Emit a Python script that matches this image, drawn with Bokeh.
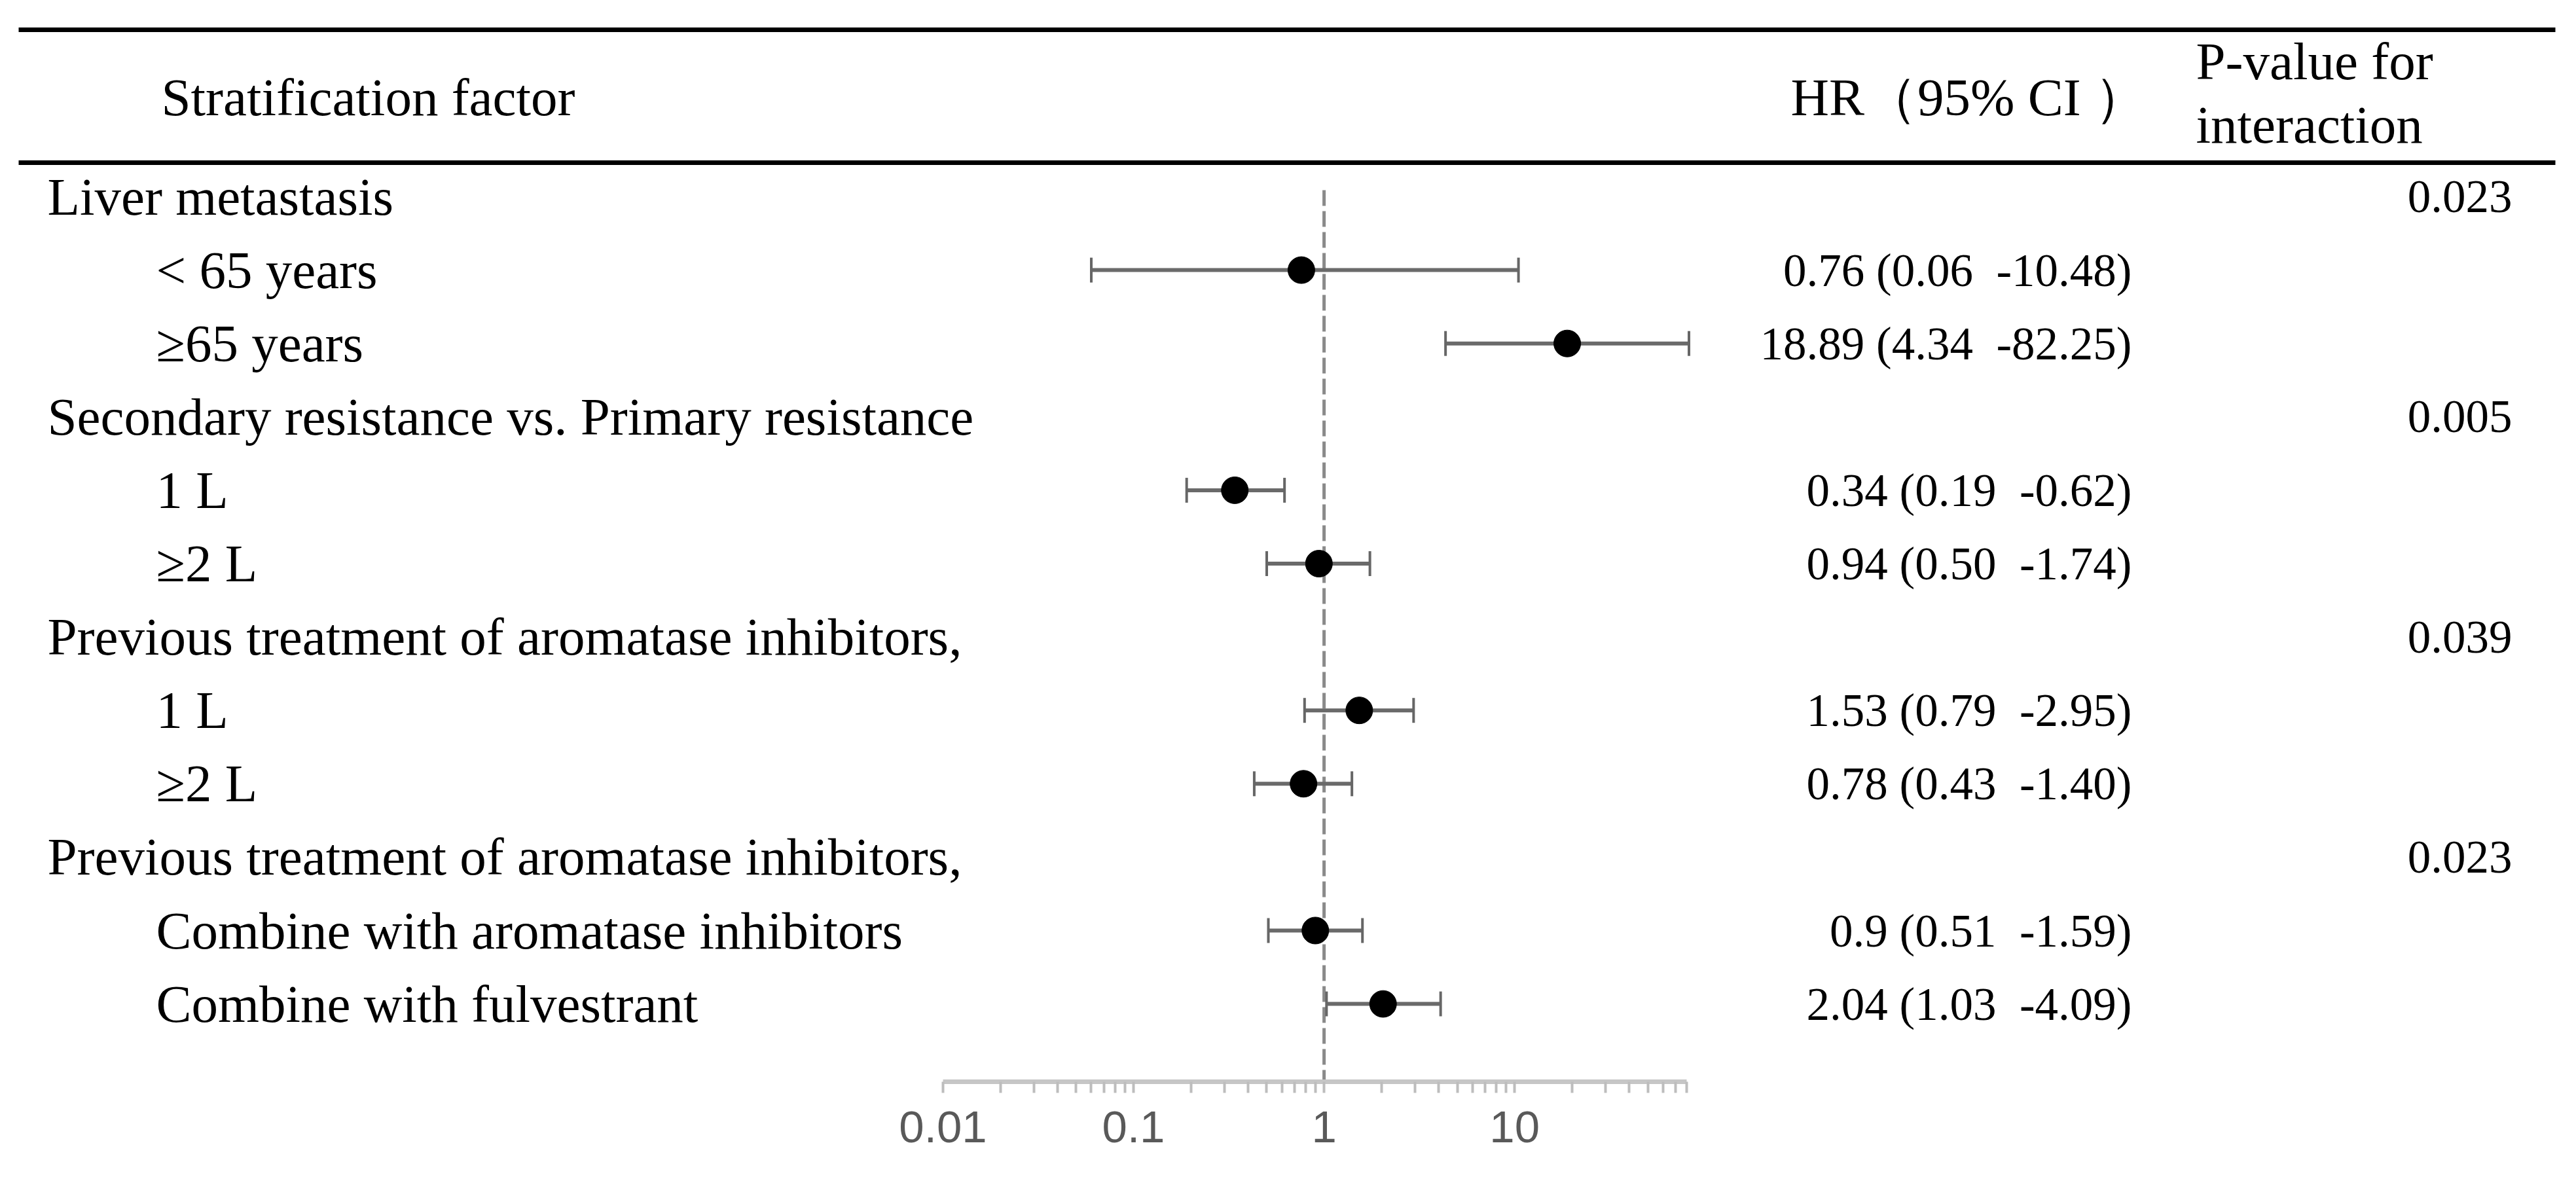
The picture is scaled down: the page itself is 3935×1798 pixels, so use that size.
import math
from bokeh.plotting import figure
from bokeh.models import Range1d, LogScale, LogAxis, FixedTicker
from bokeh.core.properties import value
from bokeh.embed import file_html
from bokeh.resources import INLINE

# ---------------- data ----------------
row_labels = [
    "Liver metastasis",
    "< 65 years",
    "\u226565 years",
    "Secondary resistance vs. Primary resistance",
    "1 L",
    "\u22652 L",
    "Previous treatment of aromatase inhibitors,",
    "1 L",
    "\u22652 L",
    "Previous treatment of aromatase inhibitors,",
    "Combine with aromatase inhibitors",
    "Combine with fulvestrant",
]
row_is_group = [True, False, False, True, False, False, True, False, False, True, False, False]

p_rows = [0, 3, 6, 9]
p_values = ["0.023", "0.005", "0.039", "0.023"]

sub_rows = [1, 2, 4, 5, 7, 8, 10, 11]
hr = [0.76, 18.89, 0.34, 0.94, 1.53, 0.78, 0.90, 2.04]
ci_low = [0.06, 4.34, 0.19, 0.50, 0.79, 0.43, 0.51, 1.03]
ci_high = [10.48, 82.25, 0.62, 1.74, 2.95, 1.40, 1.59, 4.09]
hr_text = [
    "0.76 (0.06\u00a0\u00a0-10.48)",
    "18.89 (4.34\u00a0\u00a0-82.25)",
    "0.34 (0.19\u00a0\u00a0-0.62)",
    "0.94 (0.50\u00a0\u00a0-1.74)",
    "1.53 (0.79\u00a0\u00a0-2.95)",
    "0.78 (0.43\u00a0\u00a0-1.40)",
    "0.9 (0.51\u00a0\u00a0-1.59)",
    "2.04 (1.03\u00a0\u00a0-4.09)",
]

header_factor = "Stratification factor"
header_hr = "HR\uff0895% CI \uff09"
header_p = ["P-value for", "interaction"]

axis_ticks = [0.01, 0.1, 1.0, 10.0]
axis_tick_labels = ["0.01", "0.1", "1", "10"]
axis_minor_ticks = [0.02, 0.03, 0.04, 0.05, 0.06, 0.07, 0.08, 0.09,
                    0.2, 0.3, 0.4, 0.5, 0.6, 0.7, 0.8, 0.9,
                    2, 3, 4, 5, 6, 7, 8, 9,
                    20, 30, 40, 50, 60, 70, 80]
axis_limits = (0.01, 80.0)
ref_value = 1.0

# ---------------- layout (figure pixels) ----------------
W, H = 3915, 1788
ROW0 = 300.0      # centre of first row
ROW_H = 112.1     # row pitch
AXIS_Y = 1652.0   # frame bottom = axis line
AX_LEFT, AX_RIGHT = 1440.0, 2576.0   # pixel positions of axis limits


def row_of(ypx):
    return (ypx - ROW0) / ROW_H


y_bottom = row_of(AXIS_Y)
y_top = row_of(0)

k = (math.log10(axis_limits[1]) - math.log10(axis_limits[0])) / (AX_RIGHT - AX_LEFT)
hr_lo = 10 ** (math.log10(axis_limits[0]) - AX_LEFT * k)
hr_hi = 10 ** (math.log10(axis_limits[1]) + (W - AX_RIGHT) * k)

p = figure(width=W, height=H, output_backend="svg", toolbar_location=None,
           x_range=Range1d(0, W), y_range=Range1d(y_bottom, y_top),
           x_axis_type=None, y_axis_type=None,
           min_border_left=0, min_border_right=0, min_border_top=0,
           min_border_bottom=H - int(AXIS_Y))
p.extra_x_ranges = {"hr": Range1d(hr_lo, hr_hi)}
p.extra_x_scales = {"hr": LogScale()}
p.outline_line_color = None
p.background_fill_color = "white"
p.border_fill_color = "white"

SERIF = value("Liberation Serif")
LAB_SIZE = "81px"
NUM_SIZE = "71px"

# table rules
rule_rows = [row_of(45), row_of(248)]
p.segment(x0=[28, 28], y0=rule_rows, x1=[3903, 3903], y1=rule_rows,
          line_color="black", line_width=7)

# header texts
p.text(x=[246], y=[row_of(148)], text=[header_factor], text_font=SERIF,
       text_font_size=LAB_SIZE, text_baseline="middle", text_align="left", text_color="black")
p.text(x=[2735], y=[row_of(148)], text=[header_hr], text_font=SERIF,
       text_font_size=LAB_SIZE, text_baseline="middle", text_align="left", text_color="black")
p.text(x=[3354, 3354], y=[row_of(93), row_of(190)], text=header_p, text_font=SERIF,
       text_font_size=LAB_SIZE, text_baseline="middle", text_align="left", text_color="black")

# row labels
lab_x = [72 if g else 238 for g in row_is_group]
p.text(x=lab_x, y=list(range(len(row_labels))), text=row_labels, text_font=SERIF,
       text_font_size=LAB_SIZE, text_baseline="middle", text_align="left", text_color="black")

# p-values
p.text(x=[3837] * len(p_rows), y=p_rows, text=p_values, text_font=SERIF,
       text_font_size=NUM_SIZE, text_baseline="middle", text_align="right", text_color="black")

# HR text
p.text(x=[3256] * len(sub_rows), y=sub_rows, text=hr_text, text_font=SERIF,
       text_font_size=NUM_SIZE, text_baseline="middle", text_align="right", text_color="black")

# reference line at HR = 1
p.segment(x0=[ref_value], y0=[row_of(290)], x1=[ref_value], y1=[y_bottom],
          x_range_name="hr", line_color="#8a8a8a", line_width=5, line_dash="24 8")

# whiskers
p.segment(x0=ci_low, y0=sub_rows, x1=ci_high, y1=sub_rows, x_range_name="hr",
          line_color="#6a6a6a", line_width=6)
p.scatter(x=ci_low + ci_high, y=sub_rows + sub_rows, marker="dash", angle=math.pi / 2,
          size=38, line_color="#666666", line_width=4, x_range_name="hr")
# point estimates
p.scatter(x=hr, y=sub_rows, marker="circle", size=41, fill_color="black",
          line_color="black", x_range_name="hr")

# log axis
ax = LogAxis(x_range_name="hr",
             ticker=FixedTicker(ticks=axis_ticks, minor_ticks=axis_minor_ticks),
             bounds=axis_limits)
ax.major_label_overrides = {t: l for t, l in zip(axis_ticks, axis_tick_labels)}
ax.axis_line_color = "#c6c6c6"
ax.axis_line_width = 7
ax.major_tick_line_color = "#bdbdbd"
ax.major_tick_line_width = 4
ax.major_tick_out = 17
ax.major_tick_in = 0
ax.minor_tick_line_color = "#bdbdbd"
ax.minor_tick_line_width = 4
ax.minor_tick_out = 17
ax.minor_tick_in = 0
ax.major_label_text_font = "Liberation Sans"
ax.major_label_text_font_size = "69px"
ax.major_label_text_color = "#595959"
ax.major_label_standoff = 28
p.add_layout(ax, "below")

open("out.html", "w").write(file_html(p, INLINE))
